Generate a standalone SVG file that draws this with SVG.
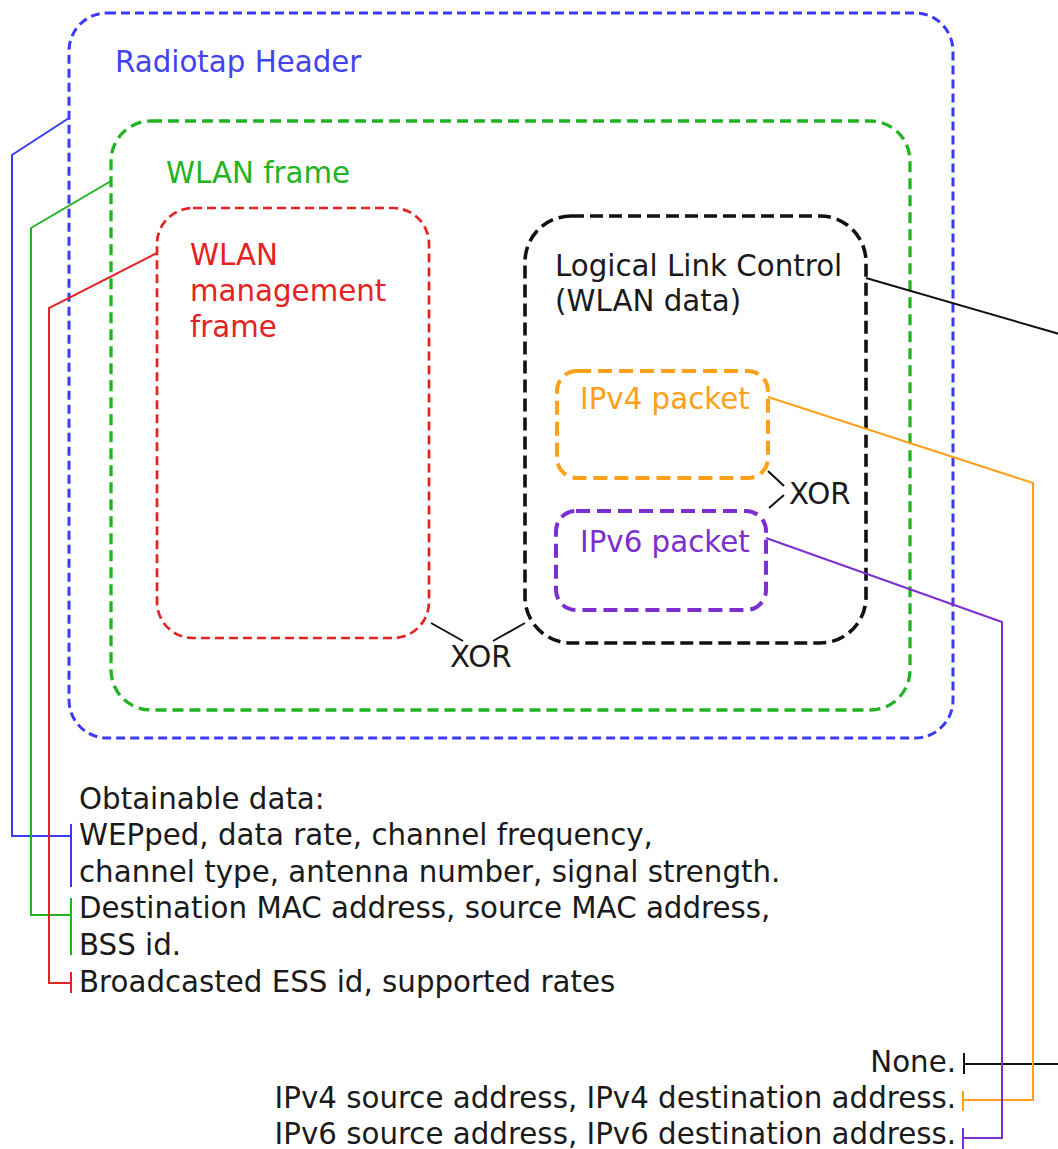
<svg xmlns="http://www.w3.org/2000/svg" width="1058" height="1149" viewBox="0 0 1058 1149">
  <style>
    text { font-family: "DejaVu Sans", "Liberation Sans", sans-serif; font-size: 29.3px; }
    .box { fill: none; }
    .blue { stroke: #3b3bf7; stroke-width: 3; stroke-dasharray: 9 5; }
    .green { stroke: #22b322; stroke-width: 3.3; stroke-dasharray: 11 6; }
    .red { stroke: #e52222; stroke-width: 2.7; stroke-dasharray: 9 5; }
    .black { stroke: #111; stroke-width: 3.6; stroke-dasharray: 13 6; }
    .orange { stroke: #ffa01c; stroke-width: 4; stroke-dasharray: 14 7; }
    .purple { stroke: #7c2ecf; stroke-width: 4; stroke-dasharray: 14 7; }
    .wire { fill: none; stroke-width: 2; }
    .t-blue { fill: #4343ee; }
    .t-green { fill: #22b322; }
    .t-red { fill: #e52222; }
    .t-black { fill: #1a1a1a; }
    .t-orange { fill: #ffa01c; }
    .t-purple { fill: #7c2ecf; }
  </style>

  <!-- nested frame layers -->
  <g id="radiotap">
    <rect class="box blue" x="69" y="13" width="884" height="725" rx="38" ry="38"/>
    <text class="t-blue" x="115" y="72">Radiotap Header</text>
  </g>
  <g id="wlan-frame">
    <rect class="box green" x="111" y="121" width="799" height="589" rx="40" ry="40"/>
    <text class="t-green" x="166" y="183">WLAN frame</text>
  </g>
  <g id="wlan-mgmt">
    <rect class="box red" x="157" y="208" width="272" height="430" rx="36" ry="36"/>
    <text class="t-red" x="190" y="265">WLAN</text>
    <text class="t-red" x="190" y="301">management</text>
    <text class="t-red" x="190" y="337">frame</text>
  </g>
  <g id="llc">
    <rect class="box black" x="525" y="216" width="341" height="427" rx="46" ry="46"/>
    <text class="t-black" x="555" y="276">Logical Link Control</text>
    <text class="t-black" x="555" y="311">(WLAN data)</text>
  </g>
  <g id="ipv4">
    <rect class="box orange" x="557" y="371" width="211" height="107" rx="20" ry="20"/>
    <text class="t-orange" x="580" y="409">IPv4 packet</text>
  </g>
  <g id="ipv6">
    <rect class="box purple" x="556" y="511" width="210" height="99" rx="20" ry="20"/>
    <text class="t-purple" x="580" y="552">IPv6 packet</text>
  </g>

  <!-- XOR alternatives -->
  <g id="xor-ip">
    <path class="wire" stroke="#111" d="M768 471 L784 486 M784 495 L769 508"/>
    <text class="t-black" x="789" y="504">XOR</text>
  </g>
  <g id="xor-frame">
    <path class="wire" stroke="#111" d="M431 623 L463 641 M493 641 L525 623"/>
    <text class="t-black" x="450" y="667">XOR</text>
  </g>

  <!-- leader lines to the data lists -->
  <g id="connectors">
    <path class="wire" stroke="#3b3bf7" d="M69 118 L12 155 L12 836 L71 836 M71 824 L71 887"/>
    <path class="wire" stroke="#22b322" d="M111 181 L31 228 L31 915 L71 915 M71 898 L71 955"/>
    <path class="wire" stroke="#e52222" d="M157 253 L49 308 L49 983 L71 983 M71 972 L71 993"/>
    <path class="wire" stroke="#111" d="M866 278 L1080 340 L1080 1064 L964 1064 M964 1053 L964 1074"/>
    <path class="wire" stroke="#ffa01c" d="M768 397 L1033 483 L1033 1100 L963 1100 M963 1091 L963 1111"/>
    <path class="wire" stroke="#7c2ecf" d="M766 538 L1002 622 L1002 1138 L963 1138 M963 1128 L963 1150"/>
  </g>

  <!-- obtainable data -->
  <g id="data-left" class="t-black">
    <text x="79" y="809">Obtainable data:</text>
    <text x="79" y="845">WEPped, data rate, channel frequency,</text>
    <text x="79" y="882">channel type, antenna number, signal strength.</text>
    <text x="79" y="918">Destination MAC address, source MAC address,</text>
    <text x="79" y="955">BSS id.</text>
    <text x="79" y="992">Broadcasted ESS id, supported rates</text>
  </g>
  <g id="data-right" class="t-black" text-anchor="end">
    <text x="956" y="1072">None.</text>
    <text x="956" y="1108">IPv4 source address, IPv4 destination address.</text>
    <text x="956" y="1144">IPv6 source address, IPv6 destination address.</text>
  </g>
</svg>
